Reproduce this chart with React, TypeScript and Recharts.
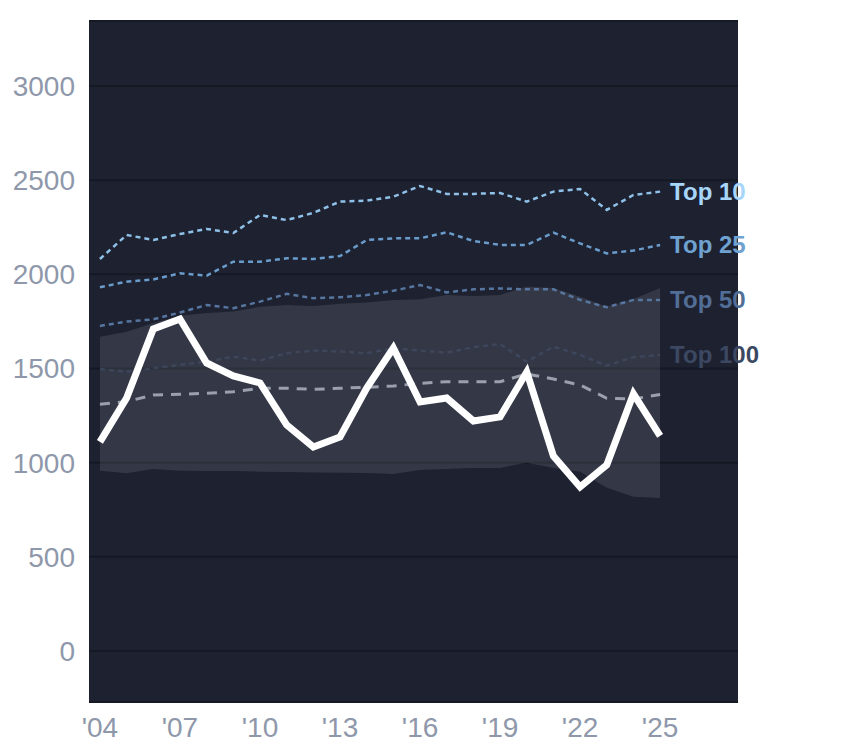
import React from 'react';
import {
  ComposedChart,
  Area,
  Line,
  XAxis,
  YAxis,
  CartesianGrid,
} from 'recharts';

const years = [
  2004, 2005, 2006, 2007, 2008, 2009, 2010, 2011, 2012, 2013, 2014, 2015,
  2016, 2017, 2018, 2019, 2020, 2021, 2022, 2023, 2024, 2025,
];

const mainSeries = [
  1110, 1343, 1710, 1763, 1529, 1460, 1423, 1200, 1083, 1136, 1396, 1609,
  1322, 1343, 1221, 1243, 1481, 1035, 871, 988, 1365, 1142,
];

const bandHigh = [
  1669, 1695, 1741, 1780, 1795, 1802, 1828, 1837, 1832, 1843, 1850, 1864,
  1867, 1890, 1885, 1890, 1935, 1927, 1881, 1828, 1869, 1927,
];

const bandLow = [
  957, 943, 966, 957, 955, 955, 952, 950, 947, 946, 945, 940, 961, 966,
  972, 972, 1000, 972, 952, 866, 819, 812,
];

const median = [
  1310, 1324, 1359, 1363, 1368, 1377, 1395, 1395, 1389, 1395, 1400, 1407,
  1421, 1430, 1430, 1430, 1471, 1444, 1412, 1342, 1338, 1362,
];

const top10 = [
  2081, 2209, 2182, 2214, 2241, 2219, 2315, 2288, 2326, 2386, 2391, 2412,
  2469, 2427, 2427, 2432, 2386, 2439, 2453, 2342, 2421, 2439,
];

const top25 = [
  1931, 1961, 1973, 2005, 1993, 2067, 2067, 2085, 2081, 2097, 2182, 2191,
  2191, 2223, 2177, 2156, 2156, 2221, 2164, 2111, 2126, 2156,
];

const top50 = [
  1726, 1749, 1761, 1797, 1837, 1820, 1855, 1896, 1873, 1878, 1890, 1913,
  1943, 1904, 1920, 1925, 1920, 1920, 1864, 1825, 1864, 1864,
];

const top100 = [
  1497, 1483, 1501, 1519, 1536, 1563, 1542, 1581, 1595, 1590, 1581, 1607,
  1595, 1584, 1613, 1630, 1536, 1616, 1572, 1515, 1560, 1572,
];

const yTicks = [0, 500, 1000, 1500, 2000, 2500, 3000];
const xTicks = [2004, 2007, 2010, 2013, 2016, 2019, 2022, 2025];

const tiers = [
  { key: 'top10', name: 'Top 10', line: '#8fc0e8', text: '#a8d6fb' },
  { key: 'top25', name: 'Top 25', line: '#6a9ccb', text: '#6fa2d0' },
  { key: 'top50', name: 'Top 50', line: '#56769f', text: '#526e96' },
  { key: 'top100', name: 'Top 100', line: '#46557180', text: '#3c4862' },
];

const data = years.map((year, i) => ({
  year,
  main: mainSeries[i],
  band: [bandLow[i], bandHigh[i]],
  median: median[i],
  top10: top10[i],
  top25: top25[i],
  top50: top50[i],
  top100: top100[i],
}));

const last = years.length - 1;

function endLabel(text: string, color: string) {
  return (props: any) => {
    if (props.index !== last) return null;
    return (
      <text
        x={props.x + 10}
        y={props.y}
        dy="0.35em"
        fill={color}
        fontSize={24}
        fontWeight="bold"
        fontFamily="Liberation Sans, Arial, sans-serif"
      >
        {text}
      </text>
    );
  };
}

export default function App() {
  return (
    <div style={{ width: 836, height: 740, fontFamily: 'Liberation Sans, Arial, sans-serif' }}>
      <ComposedChart
        width={836}
        height={740}
        data={data}
        margin={{ top: 13, right: 106, bottom: 0, left: 0 }}
      >
        <CartesianGrid
          vertical={false}
          stroke="#151924"
          strokeWidth={2}
          fill="#1d2130"
          fillOpacity={1}
        />
        <XAxis
          dataKey="year"
          type="number"
          domain={[2003.59, 2027.92]}
          ticks={xTicks}
          tickFormatter={(v) => "'" + String(v).slice(2)}
          axisLine={false}
          tickLine={false}
          tickMargin={9}
          height={46}
          tick={{ fill: '#8e98aa', fontSize: 28 }}
        />
        <YAxis
          type="number"
          domain={[-271, 3345]}
          ticks={yTicks}
          axisLine={false}
          tickLine={false}
          tickMargin={8}
          width={81}
          tick={{ fill: '#8e98aa', fontSize: 28 }}
        />
        <Area
          dataKey="band"
          type="linear"
          stroke="none"
          fill="#ffffff"
          fillOpacity={0.1}
          isAnimationActive={false}
        />
        <Line
          dataKey="median"
          type="linear"
          stroke="#9aa0ac"
          strokeWidth={3}
          strokeDasharray="10 8"
          dot={false}
          isAnimationActive={false}
        />
        {tiers.map((t) => (
          <Line
            key={t.key}
            dataKey={t.key}
            type="linear"
            stroke={t.line}
            strokeWidth={2.5}
            strokeDasharray="5 4"
            dot={false}
            label={endLabel(t.name, t.text)}
            isAnimationActive={false}
          />
        ))}
        <Line
          dataKey="main"
          type="linear"
          stroke="#ffffff"
          strokeWidth={7}
          dot={false}
          isAnimationActive={false}
        />
      </ComposedChart>
    </div>
  );
}
